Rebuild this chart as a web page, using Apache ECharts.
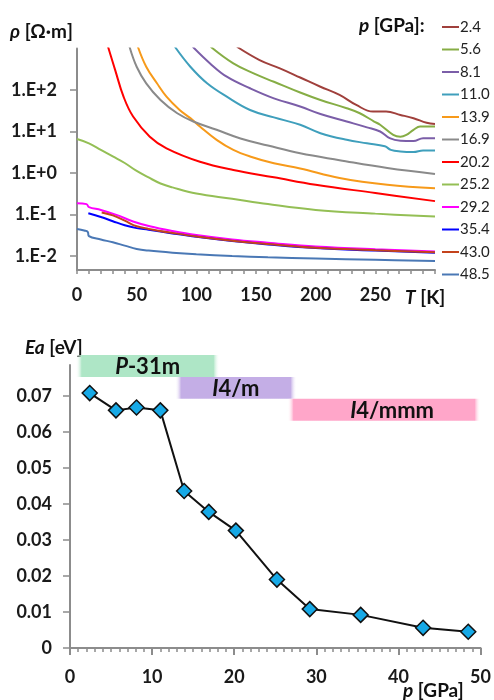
<!DOCTYPE html>
<html>
<head>
<meta charset="utf-8">
<script src="https://cdn.jsdelivr.net/npm/echarts@6/dist/echarts.min.js"></script>
<style>
  html, body { margin: 0; padding: 0; background: #fff; }
  #chart { width: 494px; height: 700px; }
</style>
</head>
<body>
<div id="chart"></div>
<script>
// pressures (GPa) of the rho(T) curves, same order as the legend
const pressures = ['2.4', '5.6', '8.1', '11.0', '13.9', '16.9', '20.2', '25.2', '29.2', '35.4', '43.0', '48.5']
const curveColors = ['#a0403c', '#86ad45', '#7b5ea8', '#3f9fbc', '#f79a1a', '#8a8a8a', '#ff0000', '#94bf55', '#ff00ff', '#0000ff', '#c4431c', '#4a78b5']

// rho(T) curves: temperature [K] and resistivity [Ohm m]
const T_2_4 = [134, 153, 170, 187, 204, 220, 234, 248, 259, 271, 282, 293, 300]
const rho_2_4 = [1100, 525, 331, 200, 120, 76, 43.6, 30.2, 30.2, 25.1, 20.9, 16.2, 15.1]
const T_5_6 = [112, 131, 148, 165, 187, 204, 226, 237, 249, 254, 265, 271, 276, 282, 287.5, 300]
const rho_5_6 = [1100, 437, 251, 158, 87, 57.5, 36.3, 27.5, 17.4, 14.5, 8.3, 7.5, 8.3, 11, 13.2, 13.2]
const T_8_1 = [97, 111.5, 125.5, 145, 165, 187, 204, 226, 243, 254, 262, 271, 282, 290, 300]
const rho_8_1 = [1100, 437, 209, 110, 63, 40, 26.3, 17.4, 12.6, 10, 6.9, 6.0, 5.9, 6.9, 6.9]
const T_11_0 = [82, 95, 109, 125.5, 145, 165, 187, 204, 226, 243, 258, 263, 271, 282, 290, 300]
const rho_11_0 = [1100, 363, 145, 69, 33, 21.9, 14.5, 9.1, 6.3, 5.2, 4.4, 3.6, 3.3, 3.2, 3.5, 3.5]
const T_13_9 = [51, 58, 67, 75, 86, 95, 103, 117, 131, 145, 165, 187, 220, 260, 300]
const rho_13_9 = [1100, 363, 145, 69, 33, 21, 13.2, 6.3, 3.6, 2.5, 1.71, 1.29, 0.76, 0.52, 0.43]
const T_16_9 = [44, 50, 58, 70, 84, 97.5, 117, 137, 160, 187, 220, 260, 300]
const rho_16_9 = [1100, 363, 145, 57.5, 27.5, 17.4, 11.0, 6.8, 4.6, 2.99, 2.04, 1.32, 0.95]
const T_20_2 = [26, 32, 39, 47, 61, 75, 103, 131, 165, 200, 250, 300]
const rho_20_2 = [1100, 302, 69, 22.9, 7.5, 3.94, 1.87, 1.18, 0.79, 0.52, 0.33, 0.21]
const T_25_2 = [0, 10, 20, 30, 40, 50, 60, 70, 80, 100, 130, 160, 200, 250, 300]
const rho_25_2 = [6.6, 5.2, 3.6, 2.5, 1.74, 1.12, 0.78, 0.56, 0.45, 0.32, 0.24, 0.178, 0.129, 0.105, 0.089]
const T_29_2 = [0, 8, 10, 20, 33, 47, 61, 80, 100, 130, 160, 200, 250, 300]
const rho_29_2 = [0.186, 0.178, 0.151, 0.129, 0.098, 0.068, 0.052, 0.040, 0.032, 0.025, 0.021, 0.017, 0.0145, 0.0129]
const T_35_4 = [9.5, 20, 30, 40, 50, 60, 80, 100, 130, 160, 200, 250, 300]
const rho_35_4 = [0.107, 0.087, 0.069, 0.055, 0.047, 0.043, 0.035, 0.029, 0.023, 0.019, 0.0155, 0.0135, 0.012]
const T_43_0 = [20.7, 30, 40, 50, 60, 80, 100, 130, 160, 200, 250, 300]
const rho_43_0 = [0.112, 0.095, 0.071, 0.052, 0.045, 0.036, 0.0295, 0.0234, 0.0195, 0.0158, 0.0138, 0.0123]
const T_48_5 = [0, 6, 9, 10, 20, 30, 40, 50, 60, 80, 100, 130, 160, 200, 250, 300]
const rho_48_5 = [0.045, 0.041, 0.038, 0.030, 0.025, 0.0214, 0.0178, 0.0148, 0.0135, 0.012, 0.011, 0.010, 0.0093, 0.0087, 0.0081, 0.0076]

const curveT = [T_2_4, T_5_6, T_8_1, T_11_0, T_13_9, T_16_9, T_20_2, T_25_2, T_29_2, T_35_4, T_43_0, T_48_5]
const curveRho = [rho_2_4, rho_5_6, rho_8_1, rho_11_0, rho_13_9, rho_16_9, rho_20_2, rho_25_2, rho_29_2, rho_35_4, rho_43_0, rho_48_5]

// activation energy vs pressure
const eaPressure = [2.4, 5.6, 8.1, 11.0, 13.9, 16.9, 20.2, 25.2, 29.2, 35.4, 43.0, 48.5]
const eaValue = [0.0708, 0.066, 0.0668, 0.066, 0.0436, 0.0378, 0.0326, 0.019, 0.0108, 0.0092, 0.0056, 0.0045]

// structural phases: pressure ranges (GPa)
const phaseLabels = ['{i|P}-31m', '{i|I}4/m', '{i|I}4/mmm']
const phaseFrom = [0.7, 12.8, 26.5]
const phaseTo = [18.2, 27.6, 50]
const phaseColors = ['#aee6c6', '#c4aee6', '#ffa6c9']

const FONT = 'Lato, "Open Sans", sans-serif'
const AXIS_GREY = '#8c8c8c'

const chart = echarts.init(document.getElementById('chart'))

const tickLabel = { fontFamily: FONT, fontWeight: 'bold', fontSize: 18, color: '#1a1a1a' }

const logLabel = (v) => {
  const e = Math.round(Math.log10(v))
  return '1.E' + (e >= 0 ? '+' : '-') + Math.abs(e)
}

const curveSeries = pressures.map((name, k) => ({
  name: name,
  type: 'line',
  xAxisIndex: 0,
  yAxisIndex: 0,
  showSymbol: false,
  smooth: 0.4,
  color: curveColors[k],
  lineStyle: { width: 2, color: curveColors[k] },
  data: curveT[k].map((t, i) => [t, curveRho[k][i]])
}))

// phase bands, stacked rows just above the data
const phaseRender = (params, api) => {
  const i = params.dataIndex
  const rowTop = 0.0814 - i * 0.0061
  const p0 = api.coord([api.value(0), rowTop])
  const p1 = api.coord([api.value(1), rowTop - 0.0061])
  const w = p1[0] - p0[0]
  const h = p1[1] - p0[1]
  const fade = Math.min(6 / w, 0.2)
  const c = phaseColors[i]
  return {
    type: 'group',
    children: [
      {
        type: 'rect',
        shape: { x: p0[0], y: p0[1], width: w, height: h },
        style: {
          fill: new echarts.graphic.LinearGradient(0, 0, 1, 0, [
            { offset: 0, color: 'rgba(255,255,255,0)' },
            { offset: fade, color: c },
            { offset: 1 - fade, color: c },
            { offset: 1, color: 'rgba(255,255,255,0)' }
          ])
        }
      },
      {
        type: 'text',
        style: {
          x: p0[0] + w / 2 + (i === 2 ? 8 : 0),
          y: p0[1] + h / 2 + 1,
          text: phaseLabels[i],
          align: 'center',
          verticalAlign: 'middle',
          fontFamily: FONT,
          fontWeight: 'bold',
          fontSize: 22,
          fill: '#111',
          rich: { i: { fontStyle: 'italic', fontWeight: 'bold', fontFamily: FONT, fontSize: 22, fill: '#111' } }
        }
      }
    ]
  }
}

const titleStyle = (text) => ({
  text: text,
  font: 'bold 19px ' + FONT,
  fill: '#111',
  rich: { i: { fontStyle: 'italic', fontWeight: 'bold', fontSize: 19, fontFamily: FONT } }
})

const option = {
  backgroundColor: '#fff',
  animation: false,
  legend: {
    orient: 'vertical',
    left: 437,
    top: 14,
    icon: 'rect',
    itemWidth: 17,
    itemHeight: 2,
    itemGap: 6.5,
    selectedMode: false,
    data: pressures,
    textStyle: { fontFamily: FONT, fontSize: 15, lineHeight: 16, color: '#222', padding: [0, 0, 0, -4] }
  },
  grid: [
    { left: 77, top: 48.5, width: 358, height: 221.5 },
    { left: 70, top: 365, width: 411, height: 283 }
  ],
  xAxis: [
    {
      gridIndex: 0,
      type: 'value',
      min: 0,
      max: 300,
      interval: 10,
      splitLine: { show: false },
      axisLine: { lineStyle: { color: AXIS_GREY, width: 2 } },
      axisTick: { length: 4, lineStyle: { color: AXIS_GREY, width: 1.5 } },
      axisLabel: {
        ...tickLabel,
        margin: 16,
        formatter: (v) => (v % 50 === 0 && v < 300 ? String(v) : '')
      }
    },
    {
      gridIndex: 1,
      type: 'value',
      min: 0,
      max: 50,
      interval: 10,
      splitLine: { show: false },
      axisLine: { lineStyle: { color: AXIS_GREY, width: 2 } },
      axisTick: { length: 7, lineStyle: { color: AXIS_GREY, width: 2 } },
      minorTick: { show: true, splitNumber: 10, length: 4, lineStyle: { color: AXIS_GREY, width: 1.5 } },
      axisLabel: { ...tickLabel, margin: 20 }
    }
  ],
  yAxis: [
    {
      gridIndex: 0,
      type: 'log',
      logBase: 10,
      min: 0.0046,
      max: 1000,
      splitLine: { show: false },
      axisLine: { lineStyle: { color: AXIS_GREY, width: 2 } },
      axisTick: { length: 7, lineStyle: { color: AXIS_GREY, width: 1.5 }, customValues: [0.01, 0.1, 1, 10, 100] },
      axisLabel: { ...tickLabel, margin: 20, customValues: [0.01, 0.1, 1, 10, 100], formatter: logLabel }
    },
    {
      gridIndex: 1,
      type: 'value',
      min: 0,
      max: 0.0786,
      splitLine: { show: false },
      axisLine: { lineStyle: { color: AXIS_GREY, width: 2 } },
      axisTick: { length: 7, lineStyle: { color: AXIS_GREY, width: 1.5 }, customValues: [0, 0.01, 0.02, 0.03, 0.04, 0.05, 0.06, 0.07] },
      axisLabel: {
        ...tickLabel,
        margin: 18,
        customValues: [0, 0.01, 0.02, 0.03, 0.04, 0.05, 0.06, 0.07],
        formatter: (v) => (v === 0 ? '0' : v.toFixed(2))
      }
    }
  ],
  graphic: [
    { type: 'text', left: 10, top: 22, style: titleStyle('{i|ρ} [Ω·m]') },
    { type: 'text', left: 359, top: 16, style: titleStyle('{i|p} [GPa]:') },
    { type: 'text', left: 405, top: 288, style: titleStyle('{i|T} [K]') },
    { type: 'text', left: 25, top: 338, style: titleStyle('{i|Ea} [eV]') },
    { type: 'text', left: 403, top: 681, style: titleStyle('{i|p} [GPa]') }
  ],
  series: [
    ...curveSeries,
    {
      name: 'phases',
      type: 'custom',
      xAxisIndex: 1,
      yAxisIndex: 1,
      clip: false,
      z: 1,
      renderItem: phaseRender,
      data: phaseFrom.map((f, i) => [f, phaseTo[i]])
    },
    {
      name: 'Ea',
      type: 'line',
      xAxisIndex: 1,
      yAxisIndex: 1,
      z: 3,
      symbol: 'diamond',
      symbolSize: 15,
      lineStyle: { color: '#111', width: 2 },
      itemStyle: { color: '#17a9e6', borderColor: '#111', borderWidth: 1.5 },
      data: eaPressure.map((p, i) => [p, eaValue[i]])
    }
  ]
}

chart.setOption(option)
</script>
</body>
</html>
